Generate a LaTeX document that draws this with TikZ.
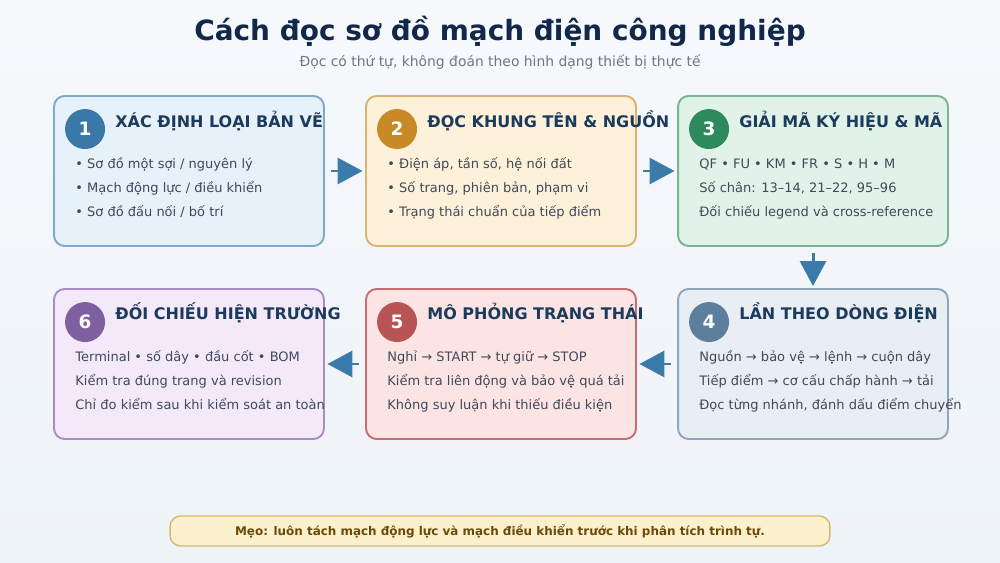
\documentclass[tikz,border=0pt]{standalone}
\usepackage{fontspec}
\setmainfont{DejaVu Sans}
\usetikzlibrary{positioning, arrows.meta}
\definecolor{xbgtop}{HTML}{F6F9FC}
\definecolor{xbgbot}{HTML}{EEF3F8}
\definecolor{xnavy}{HTML}{12284A}
\definecolor{xhead}{HTML}{1B3A5C}
\definecolor{xtext}{HTML}{3E4A5A}
\definecolor{xsub}{HTML}{6E7884}
\definecolor{xarrow}{HTML}{3B7BAA}
\definecolor{xblue}{HTML}{3A78A8}
\definecolor{xgold}{HTML}{C88A26}
\definecolor{xgreen}{HTML}{2E8A5C}
\definecolor{xslate}{HTML}{5E7E9E}
\definecolor{xred}{HTML}{B85454}
\definecolor{xpurple}{HTML}{7E60A0}
\definecolor{xbluefill}{HTML}{E7F1FA}
\definecolor{xblueline}{HTML}{7FA9CB}
\definecolor{xgoldfill}{HTML}{FEF1D9}
\definecolor{xgoldline}{HTML}{DAB36E}
\definecolor{xgreenfill}{HTML}{E1F3E8}
\definecolor{xgreenline}{HTML}{7BB394}
\definecolor{xslatefill}{HTML}{E9EEF4}
\definecolor{xslateline}{HTML}{91A5BA}
\definecolor{xredfill}{HTML}{FDE4E4}
\definecolor{xredline}{HTML}{C46E6E}
\definecolor{xpurplefill}{HTML}{F3E9F9}
\definecolor{xpurpleline}{HTML}{AA8CC6}
\definecolor{xtipfill}{HTML}{FDF0CC}
\definecolor{xtipline}{HTML}{D8B870}
\definecolor{xtiptext}{HTML}{6B4A08}
\tikzset{
  card/.style 2 args={draw=#1, fill=#2, line width=1.1pt, rounded corners=6pt,
    minimum width=5.4cm, minimum height=3cm, inner sep=0pt},
  badge/.style={circle, fill=#1, minimum size=0.8cm, inner sep=0pt, text=white,
    font=\bfseries\fontsize{10.5}{12}\selectfont},
  cardtitle/.style={anchor=base west, inner sep=0pt, text=xhead,
    font=\bfseries\fontsize{9.1}{11}\selectfont},
  cardline/.style={anchor=base west, inner sep=0pt, text=xtext,
    font=\fontsize{7.4}{9}\selectfont},
  flow/.style={draw=xarrow, line width=1.7pt, -{Triangle[length=0.5cm, width=0.52cm]}},
}

\begin{document}
\begin{tikzpicture}[x=0.02cm, y=-0.02cm]
  \shade[top color=xbgtop, bottom color=xbgbot] (0,0) rectangle (1000,563);

  \node[anchor=base, inner sep=0pt, text=xnavy, font=\bfseries\fontsize{15.9}{18}\selectfont]
    (title) at (500,41) {Cách đọc sơ đồ mạch điện công nghiệp};
  \node[anchor=base, inner sep=0pt, text=xsub, font=\fontsize{7.9}{9}\selectfont]
    (subtitle) at (500,67) {Đọc có thứ tự, không đoán theo hình dạng thiết bị thực tế};

  % top row
  \node[card={xblueline}{xbluefill}] (s1) at (189,171) {};
  \node[badge=xblue] (b1) at ([shift={(32,34)}]s1.north west) {1};
  \node[cardtitle] (h1) at ([shift={(62,32)}]s1.north west) {XÁC ĐỊNH LOẠI BẢN VẼ};
  \node[cardline] (l11) at ([shift={(22,73)}]s1.north west) {• Sơ đồ một sợi / nguyên lý};
  \node[cardline] (l12) at ([shift={(22,97)}]s1.north west) {• Mạch động lực / điều khiển};
  \node[cardline] (l13) at ([shift={(22,121)}]s1.north west) {• Sơ đồ đấu nối / bố trí};

  \node[card={xgoldline}{xgoldfill}] (s2) at (501,171) {};
  \node[badge=xgold] (b2) at ([shift={(32,34)}]s2.north west) {2};
  \node[cardtitle] (h2) at ([shift={(62,32)}]s2.north west) {ĐỌC KHUNG TÊN \& NGUỒN};
  \node[cardline] (l21) at ([shift={(22,73)}]s2.north west) {• Điện áp, tần số, hệ nối đất};
  \node[cardline] (l22) at ([shift={(22,97)}]s2.north west) {• Số trang, phiên bản, phạm vi};
  \node[cardline] (l23) at ([shift={(22,121)}]s2.north west) {• Trạng thái chuẩn của tiếp điểm};

  \node[card={xgreenline}{xgreenfill}] (s3) at (813,171) {};
  \node[badge=xgreen] (b3) at ([shift={(32,34)}]s3.north west) {3};
  \node[cardtitle] (h3) at ([shift={(62,32)}]s3.north west) {GIẢI MÃ KÝ HIỆU \& MÃ};
  \node[cardline] (l31) at ([shift={(22,73)}]s3.north west) {QF • FU • KM • FR • S • H • M};
  \node[cardline] (l32) at ([shift={(22,97)}]s3.north west) {Số chân: 13–14, 21–22, 95–96};
  \node[cardline] (l33) at ([shift={(22,121)}]s3.north west) {Đối chiếu legend và cross-reference};

  % bottom row
  \node[card={xslateline}{xslatefill}] (s4) at (813,364) {};
  \node[badge=xslate] (b4) at ([shift={(32,34)}]s4.north west) {4};
  \node[cardtitle] (h4) at ([shift={(62,31)}]s4.north west) {LẦN THEO DÒNG ĐIỆN};
  \node[cardline] (l41) at ([shift={(22,73)}]s4.north west) {Nguồn → bảo vệ → lệnh → cuộn dây};
  \node[cardline] (l42) at ([shift={(22,97)}]s4.north west) {Tiếp điểm → cơ cấu chấp hành → tải};
  \node[cardline] (l43) at ([shift={(22,121)}]s4.north west) {Đọc từng nhánh, đánh dấu điểm chuyển};

  \node[card={xredline}{xredfill}] (s5) at (501,364) {};
  \node[badge=xred] (b5) at ([shift={(32,34)}]s5.north west) {5};
  \node[cardtitle] (h5) at ([shift={(62,31)}]s5.north west) {MÔ PHỎNG TRẠNG THÁI};
  \node[cardline] (l51) at ([shift={(22,73)}]s5.north west) {Nghỉ → START → tự giữ → STOP};
  \node[cardline] (l52) at ([shift={(22,97)}]s5.north west) {Kiểm tra liên động và bảo vệ quá tải};
  \node[cardline] (l53) at ([shift={(22,121)}]s5.north west) {Không suy luận khi thiếu điều kiện};

  \node[card={xpurpleline}{xpurplefill}] (s6) at (189,364) {};
  \node[badge=xpurple] (b6) at ([shift={(32,34)}]s6.north west) {6};
  \node[cardtitle] (h6) at ([shift={(62,31)}]s6.north west) {ĐỐI CHIẾU HIỆN TRƯỜNG};
  \node[cardline] (l61) at ([shift={(22,73)}]s6.north west) {Terminal • số dây • đầu cốt • BOM};
  \node[cardline] (l62) at ([shift={(22,97)}]s6.north west) {Kiểm tra đúng trang và revision};
  \node[cardline] (l63) at ([shift={(22,121)}]s6.north west) {Chỉ đo kiểm sau khi kiểm soát an toàn};

  % flow
  \draw[flow, shorten <=0.13cm, shorten >=0.05cm] (s1) -- (s2);
  \draw[flow, shorten <=0.13cm, shorten >=0.05cm] (s2) -- (s3);
  \draw[flow, shorten <=0.13cm, shorten >=0.04cm] (s3) -- (s4);
  \draw[flow, shorten <=0.13cm, shorten >=0.05cm] (s4) -- (s5);
  \draw[flow, shorten <=0.13cm, shorten >=0.05cm] (s5) -- (s6);

  \node[draw=xtipline, fill=xtipfill, line width=0.8pt, rounded corners=6pt,
    minimum width=13.2cm, minimum height=0.6cm, inner sep=0pt,
    text=xtiptext, font=\bfseries\fontsize{6.8}{8}\selectfont]
    (tip) at (500,531) {Mẹo: luôn tách mạch động lực và mạch điều khiển trước khi phân tích trình tự.};
\end{tikzpicture}
\end{document}
